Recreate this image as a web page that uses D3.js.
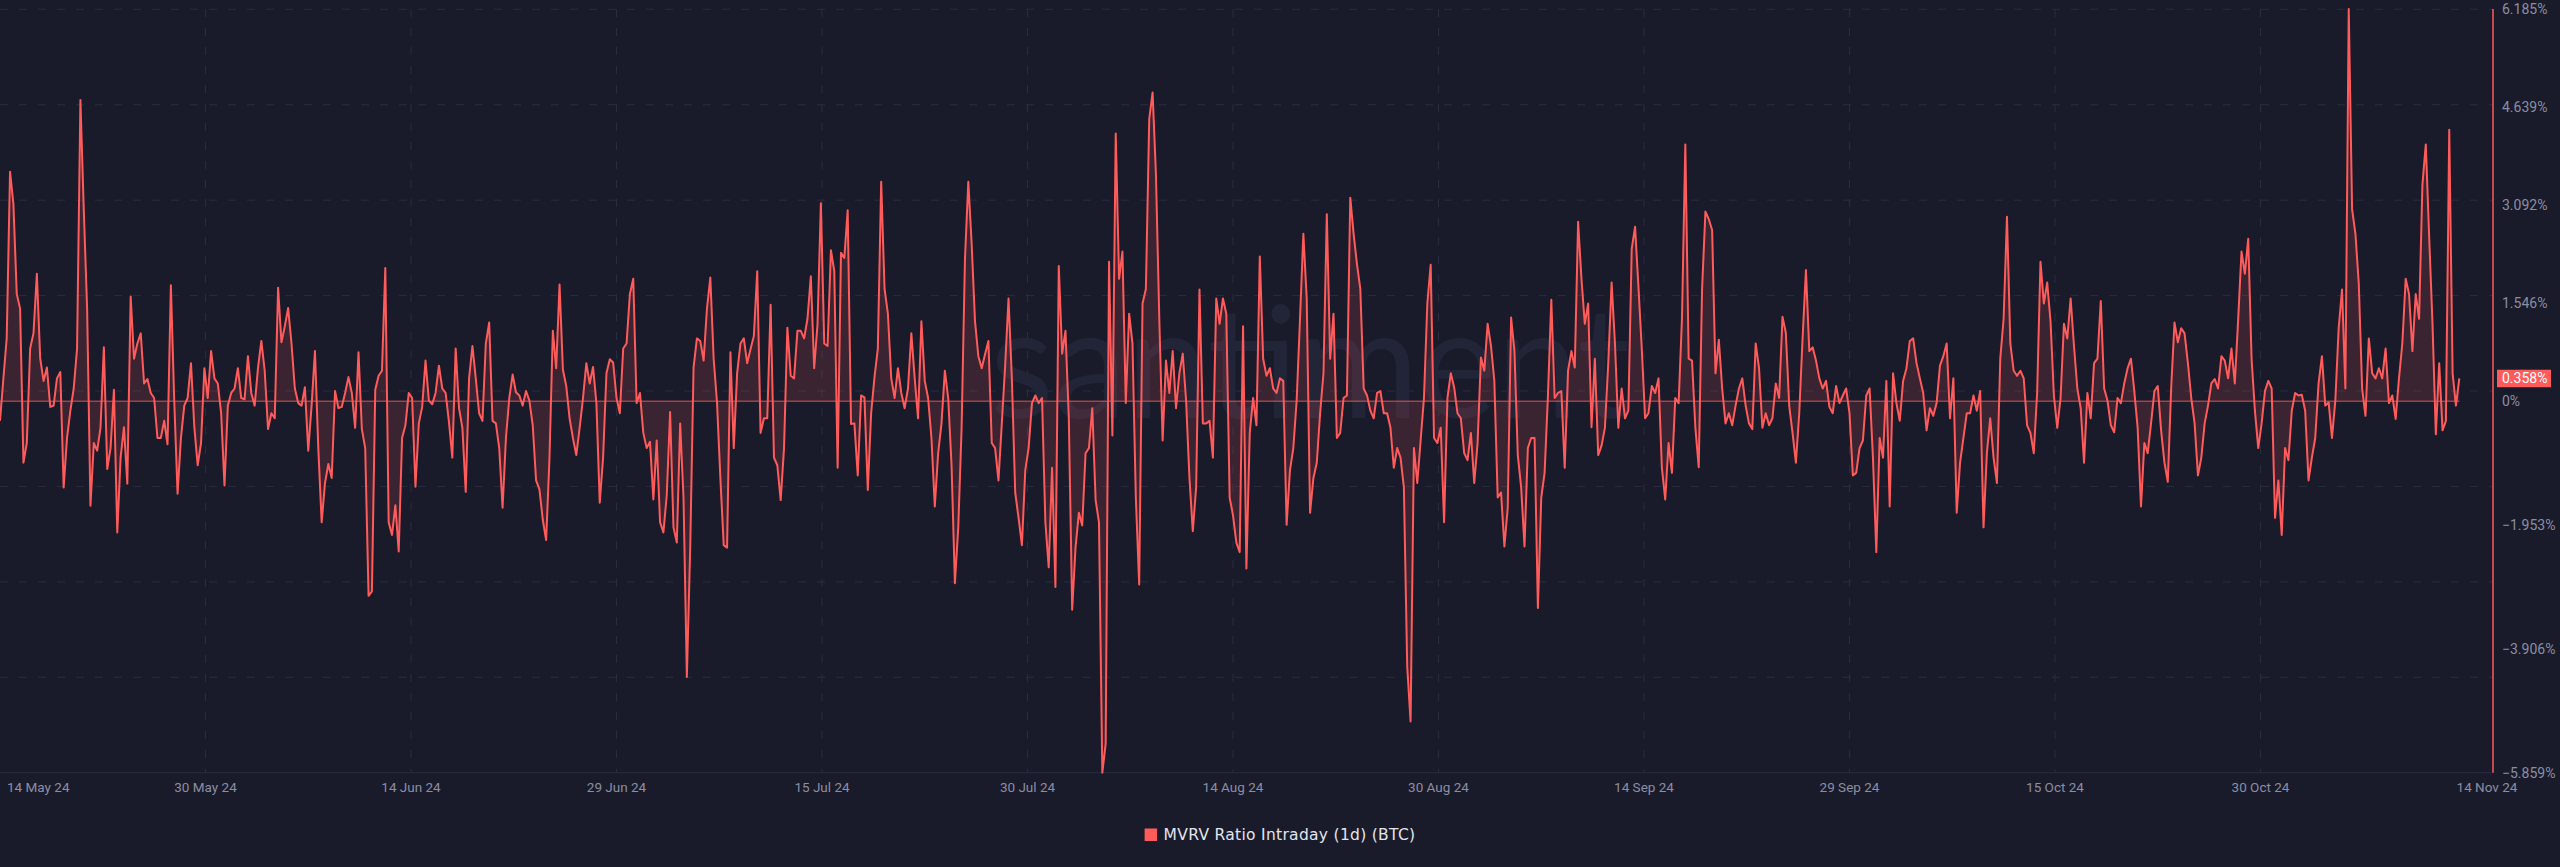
<!DOCTYPE html>
<html>
<head>
<meta charset="utf-8">
<script src="https://cdn.jsdelivr.net/npm/d3@7"></script>
<style>
  html, body { margin: 0; padding: 0; background: #1a1b2a; }
  svg { display: block; }
</style>
</head>
<body>
<svg id="chart" width="2560" height="867"></svg>
<script>
// ---------------- DATA ----------------
const startTime = "2024-05-14T18:00:00Z";   // first sample
const stepHours = 6;                          // sampling interval
const axisSpanDays = 184;                     // width of the time axis
const seriesLabel = "MVRV Ratio Intraday (1d) (BTC)";
const lastValue = 0.358;

// MVRV ratio intraday change, %
const mvrvChange = [
  // 14 May – ~20 Jun
  -0.31, 0.35, 0.99, 3.62, 3.11, 1.69, 1.46, -0.97, -0.66, 0.83,
  1.07, 2.01, 0.67, 0.32, 0.53, -0.09, -0.07, 0.36, 0.46, -1.36,
  -0.58, -0.15, 0.20, 0.83, 4.75, 3.03, 1.46, -1.65, -0.66, -0.78,
  -0.42, 0.85, -1.07, -0.74, 0.18, -2.07, -0.89, -0.41, -1.30, 1.65,
  0.67, 0.91, 1.07, 0.28, 0.35, 0.13, 0.05, -0.58, -0.58, -0.31,
  -0.68, 1.83, 0.01, -1.46, -0.58, -0.07, 0.05, 0.60, -0.41, -1.01,
  -0.66, 0.52, 0.05, 0.79, 0.36, 0.28, -0.19, -1.33, -0.07, 0.13,
  0.20, 0.52, 0.05, 0.03, 0.71, 0.13, -0.07, 0.52, 0.95, 0.48,
  -0.44, -0.19, -0.27, 1.79, 0.93, 1.18, 1.47, 0.91, 0.20, -0.03,
  -0.07, 0.22, -0.78, -0.07, 0.79, -0.74, -1.91, -1.29, -0.99, -1.21,
  0.16, -0.11, -0.09, 0.13, 0.38, 0.13, -0.42, 0.77, -0.44, -0.74,
  -3.07, -3.00, 0.18, 0.40, 0.48, 2.10, -1.91, -2.11, -1.64, -2.37,
  -0.58, -0.38, 0.13, 0.05, -1.35, -0.35, -0.09, 0.64, 0.01, -0.05,
  0.13, 0.56, 0.20, 0.13, -0.33, -0.89, 0.83, -0.11, -0.42, -1.43,
  0.36, 0.87, 0.36, -0.19, -0.31, 0.91, 1.24,
  // ~20 Jun – ~26 Jul
  -0.31, -0.35, -0.74, -1.68, -0.58, 0.05, 0.42, 0.14, 0.09, -0.07,
  0.16, 0.01, -0.38, -1.25, -1.39, -1.87, -2.19, -0.89, 1.11, 0.52,
  1.84, 0.50, 0.24, -0.27, -0.58, -0.85, -0.42, 0.05, 0.60, 0.28,
  0.54, -0.03, -1.60, -0.89, 0.44, 0.66, 0.61, 0.05, -0.19, 0.83,
  0.91, 1.69, 1.93, -0.03, 0.13, -0.50, -0.74, -0.64, -1.55, -0.62,
  -1.91, -2.07, -1.48, -0.17, -1.99, -2.23, -0.35, -1.52, -4.35, -2.31,
  0.53, 0.99, 0.95, 0.64, 1.46, 1.95, 0.67, -0.02, -1.21, -2.27,
  -2.31, 0.77, -0.74, 0.44, 0.91, 0.99, 0.60, 0.82, 1.03, 2.05,
  -0.50, -0.27, -0.27, 1.52, -0.89, -1.01, -1.56, -0.74, 1.16, 0.40,
  0.36, 1.11, 1.11, 0.99, 1.30, 1.97, 0.52, 1.22, 3.12, 0.91,
  0.87, 2.38, 2.05, -1.05, 2.34, 2.26, 3.01, -0.36, -0.35, -1.17,
  0.09, 0.06, -1.40, -0.19, 0.38, 0.83, 3.46, 1.77, 1.38, 0.36,
  0.05, 0.52, 0.13, -0.11, 0.20, 1.07, 0.36, -0.27, 1.26, 0.32,
  0.05, -0.58, -1.66, -0.82, -0.35, 0.48, 0.05, -1.01, -2.87, -1.99,
  -0.42, 2.24, 3.46, 2.48, 1.26, 0.71,
  // ~26 Jul – ~1 Sep
  0.52, 0.74, 0.95, -0.66, -0.74, -1.25, -0.35, 0.56, 1.62, 0.36,
  -1.44, -1.84, -2.27, -1.09, -0.74, -0.03, 0.09, -0.03, 0.05, -1.91,
  -2.62, -1.05, -2.93, 2.13, 0.75, 1.11, -0.27, -3.29, -2.31, -1.76,
  -1.96, -0.82, -0.74, -0.11, -1.56, -1.91, -5.859, -5.40, 2.20, -0.54,
  4.22, 1.93, 2.36, -0.03, 1.38, 0.91, -1.52, -2.89, 1.54, 1.77,
  4.45, 4.87, 3.58, 1.30, -0.62, 0.64, 0.13, 0.79, -0.11, 0.44,
  0.75, 0.01, -1.21, -2.05, -1.36, 1.76, -0.35, -0.35, -0.31, -0.89,
  1.62, 1.22, 1.62, 1.38, -1.52, -1.80, -2.23, -2.38, 1.18, -2.64,
  -0.50, 0.05, -0.38, 2.28, 0.67, 0.40, 0.52, 0.20, 0.13, 0.36,
  0.32, -1.95, -1.09, -0.74, 0.01, 1.30, 2.64, 1.62, -1.76, -1.21,
  -0.97, -0.19, 0.44, 2.95, 0.67, 1.38, -0.58, -0.50, 0.05, 0.09,
  3.21, 2.64, 2.16, 1.77, 0.20, 0.09, -0.15, -0.27, 0.13, 0.16,
  -0.19, -0.19, -0.42, -1.05, -0.74, -0.89, -1.36, -4.19, -5.05, -0.74,
  -1.29, -0.62, 0.05, 1.54, 2.15, -0.58, -0.66, -0.42, -1.91, 0.05,
  0.44, 0.22, -0.19, -0.27, -0.82, -0.93,
  // ~1 Sep – ~8 Oct
  -0.50, -1.29, -0.66, 0.69, 0.48, 1.22, 0.87, 0.32, -1.52, -1.44,
  -2.29, -1.68, 1.32, 0.79, -0.85, -1.36, -2.29, -0.74, -0.58, -0.58,
  -3.26, -1.52, -1.13, 0.09, 1.60, 0.05, 0.13, 0.16, -1.05, 0.48,
  0.79, 0.53, 2.83, 1.93, 1.22, 1.54, -0.41, 0.67, -0.85, -0.70,
  -0.42, 0.60, 1.87, 0.91, -0.42, 0.20, -0.27, -0.15, 2.40, 2.75,
  1.81, 0.83, -0.27, -0.19, 0.24, 0.13, 0.36, -1.05, -1.55, -0.66,
  -1.13, 0.05, -0.03, 1.30, 4.05, 0.67, 0.64, -0.42, -1.04, 1.77,
  2.99, 2.87, 2.70, 0.44, 0.97, 0.20, -0.35, -0.19, -0.38, -0.07,
  0.20, 0.36, -0.07, -0.35, -0.44, 0.91, 0.52, -0.42, -0.19, -0.38,
  -0.27, 0.28, 0.05, 1.33, 1.08, -0.07, -0.50, -0.97, -0.19, 0.99,
  2.07, 0.79, 0.85, 0.64, 0.36, 0.20, 0.32, -0.09, -0.19, 0.24,
  -0.03, 0.09, 0.20, -0.19, -1.17, -1.13, -0.74, -0.62, 0.09, 0.20,
  -0.89, -2.38, -0.58, -0.89, 0.32, -1.66, 0.44, -0.03, -0.31, 0.32,
  0.52, 0.95, 0.99, 0.60, 0.36, 0.13, -0.46, -0.11, -0.23, -0.03,
  0.56, 0.71, 0.91, -0.27, 0.36, -1.76, -0.97,
  // ~8 Oct – 14 Nov
  -0.58, -0.19, -0.19, 0.09, -0.15, 0.16, -1.99, -0.82, -0.27, -0.89,
  -1.29, 0.67, 1.30, 2.91, 0.91, 0.48, 0.40, 0.48, 0.36, -0.38,
  -0.50, -0.82, 0.13, 2.20, 1.54, 1.87, 1.26, 0.09, -0.42, 0.05,
  1.22, 0.99, 1.62, 0.87, 0.20, -0.11, -0.97, 0.13, -0.27, 0.60,
  0.67, 1.58, 0.20, 0.01, -0.38, -0.49, 0.05, -0.03, 0.28, 0.52,
  0.67, 0.16, -0.42, -1.66, -0.66, -0.82, -0.35, 0.16, 0.24, -0.46,
  -0.97, -1.27, 0.20, 1.24, 0.93, 1.15, 1.07, 0.60, 0.05, -0.35,
  -1.17, -0.89, -0.35, -0.07, 0.28, 0.35, 0.20, 0.71, 0.64, 0.36,
  0.83, 0.28, 1.29, 2.36, 2.01, 2.56, 0.67, -0.15, -0.74, -0.35,
  0.16, 0.32, 0.20, -1.84, -1.25, -2.11, -0.74, -0.93, -0.15, 0.13,
  0.09, 0.10, -0.15, -1.25, -0.89, -0.58, 0.28, 0.71, -0.07, -0.02,
  -0.58, 0.01, 1.15, 1.76, 0.20, 6.185, 3.03, 2.64, 1.85, 0.20,
  -0.23, 0.99, 0.44, 0.36, 0.52, 0.36, 0.83, -0.03, 0.09, -0.28,
  0.36, 0.91, 1.93, 1.69, 0.79, 1.69, 1.30, 3.42, 4.05, 2.60,
  1.22, -0.52, 0.60, -0.46, -0.31, 4.28, 0.44, -0.07, 0.358
];

// y axis tick values (%)
const yTickValues = [6.185, 4.639, 3.092, 1.546, 0, -1.953, -3.906, -5.859];
const xTickCount = 13;
const gridRowCount = 9;

// ---------------- LAYOUT ----------------
const W = 2560, H = 867;
const plot = { left: 0, right: 2466, top: 9, bottom: 772.7 };
const axisX = 2493;
const COLORS = {
  bg: "#1a1b2a",
  grid: "#292c41",
  red: "#ff5b5b",
  tick: "#8a8ea4",
  legend: "#e2e4ec",
  watermark: "#222538"
};

const svg = d3.select("#chart");
svg.append("rect").attr("width", W).attr("height", H).attr("fill", COLORS.bg);

const t0 = new Date(startTime);
const data = mvrvChange.map((v, i) => ({ date: new Date(+t0 + i * stepHours * 3600e3), value: v }));

const x = d3.scaleUtc()
  .domain([t0, new Date(+t0 + axisSpanDays * 864e5)])
  .range([plot.left, plot.right]);
const y = d3.scaleLinear()
  .domain([d3.min(yTickValues), d3.max(yTickValues)])
  .range([plot.bottom, plot.top]);

// ---------------- GRID ----------------
const grid = svg.append("g");
const rowYs = d3.range(gridRowCount).map(k => y.range()[1] + 0.3 + k * (y.range()[0] - y.range()[1] - 0.3) / (gridRowCount - 1));
grid.selectAll("line.row").data(rowYs.slice(0, -1)).join("line")
  .attr("x1", plot.left).attr("x2", axisX)
  .attr("y1", d => d).attr("y2", d => d)
  .attr("stroke", COLORS.grid).attr("stroke-width", 1)
  .attr("stroke-dasharray", "8 11");
grid.append("line")
  .attr("x1", plot.left).attr("x2", axisX)
  .attr("y1", plot.bottom).attr("y2", plot.bottom)
  .attr("stroke", COLORS.grid).attr("stroke-width", 1);

const tickDates = d3.range(xTickCount).map(k =>
  x.invert(plot.left + k * (plot.right - plot.left) / (xTickCount - 1)));
grid.selectAll("line.col").data(tickDates.slice(1, -1)).join("line")
  .attr("x1", d => x(d)).attr("x2", d => x(d))
  .attr("y1", plot.top).attr("y2", plot.bottom)
  .attr("stroke", COLORS.grid).attr("stroke-width", 1)
  .attr("stroke-dasharray", "8 11");

// ---------------- WATERMARK ----------------
svg.append("text")
  .attr("x", 1310).attr("y", 418)
  .attr("text-anchor", "middle")
  .attr("font-family", "Lato, 'Open Sans', sans-serif")
  .attr("font-weight", 400)
  .attr("font-size", 156)
  .attr("textLength", 640)
  .attr("lengthAdjust", "spacingAndGlyphs")
  .attr("fill", COLORS.watermark)
  .text("santiment");

// ---------------- SERIES ----------------
const area = d3.area()
  .x(d => x(d.date))
  .y0(y(0))
  .y1(d => y(d.value));
svg.append("path").datum(data)
  .attr("d", area)
  .attr("fill", COLORS.red)
  .attr("fill-opacity", 0.14);

svg.append("line")
  .attr("x1", x(data[0].date)).attr("x2", x(data[data.length - 1].date))
  .attr("y1", y(0)).attr("y2", y(0))
  .attr("stroke", COLORS.red).attr("stroke-opacity", 0.85).attr("stroke-width", 1);

const line = d3.line()
  .x(d => x(d.date))
  .y(d => y(d.value));
svg.append("path").datum(data)
  .attr("d", line)
  .attr("fill", "none")
  .attr("stroke", COLORS.red)
  .attr("stroke-width", 2)
  .attr("stroke-linejoin", "round");

// ---------------- Y AXIS (right) ----------------
svg.append("line")
  .attr("x1", axisX).attr("x2", axisX)
  .attr("y1", plot.top).attr("y2", plot.bottom)
  .attr("stroke", COLORS.red).attr("stroke-width", 1.5);

const fmtY = d => (d === 0 ? "0" : d3.format(".3f")(d)) + "%";
svg.append("g").selectAll("text").data(yTickValues).join("text")
  .attr("x", axisX + 9)
  .attr("y", d => y(d))
  .attr("dy", "0.35em")
  .attr("font-family", "Roboto, sans-serif")
  .attr("font-size", 14)
  .attr("fill", COLORS.tick)
  .text(fmtY);

// last value badge
const badge = svg.append("g");
badge.append("rect")
  .attr("x", axisX + 4).attr("y", y(lastValue) - 8.75)
  .attr("width", 54).attr("height", 17.5)
  .attr("fill", COLORS.red);
badge.append("text")
  .attr("x", axisX + 9).attr("y", y(lastValue))
  .attr("dy", "0.35em")
  .attr("font-family", "Roboto, sans-serif")
  .attr("font-size", 14)
  .attr("fill", "#ffffff")
  .text(d3.format(".3f")(lastValue) + "%");

// ---------------- X AXIS ----------------
const fmtX = d3.utcFormat("%d %b %y");
svg.append("g").selectAll("text").data(tickDates).join("text")
  .attr("x", (d, i) => i === 0 ? x(d) + 7 : (i === tickDates.length - 1 ? x(d) + 21 : x(d)))
  .attr("y", 787)
  .attr("dy", "0.35em")
  .attr("text-anchor", (d, i) => i === 0 ? "start" : "middle")
  .attr("font-family", "Roboto, sans-serif")
  .attr("font-size", 13.5)
  .attr("fill", COLORS.tick)
  .text(d => fmtX(d));

// ---------------- LEGEND ----------------
const legend = svg.append("g");
legend.append("rect")
  .attr("x", 0).attr("y", -6).attr("width", 12.5).attr("height", 12.5)
  .attr("fill", COLORS.red);
const legendText = legend.append("text")
  .attr("x", 19).attr("y", 0).attr("dy", "0.35em")
  .attr("font-family", "'DejaVu Sans', sans-serif")
  .attr("font-size", 15.5)
  .attr("letter-spacing", 0.3)
  .attr("fill", COLORS.legend)
  .text(seriesLabel);
const lw = 19 + legendText.node().getComputedTextLength();
legend.attr("transform", `translate(${W / 2 - lw / 2},834.5)`);
</script>
</body>
</html>
